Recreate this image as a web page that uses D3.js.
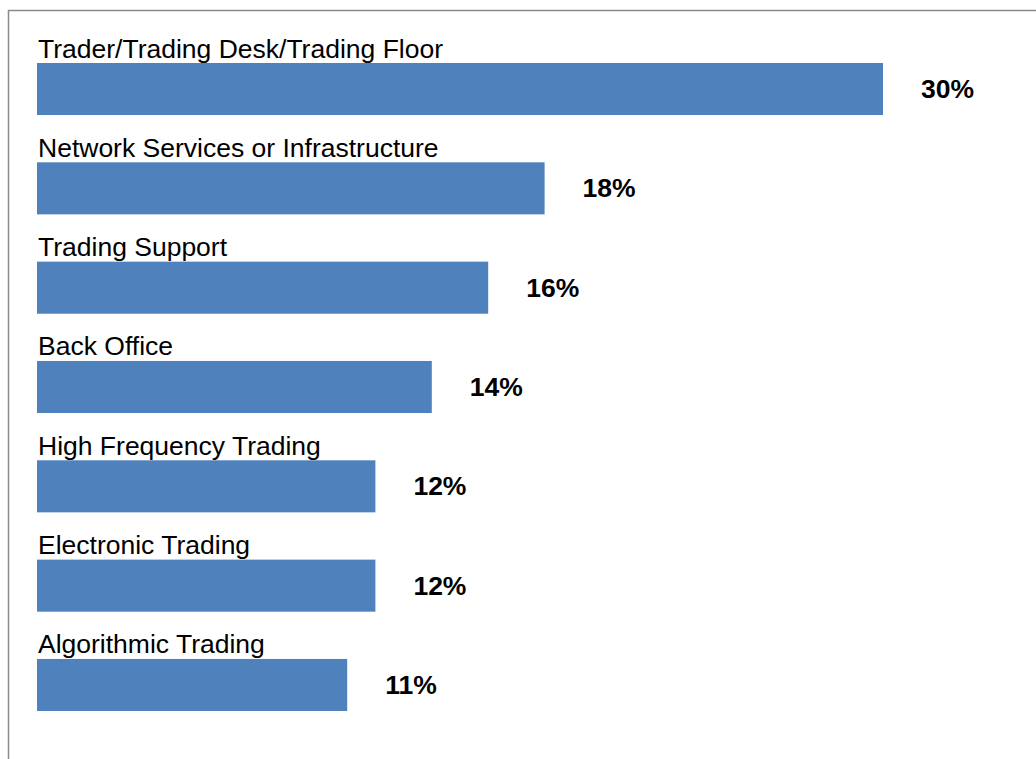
<!DOCTYPE html>
<html>
<head>
<meta charset="utf-8">
<script src="https://cdn.jsdelivr.net/npm/d3@7"></script>
<style>
  html, body { margin: 0; padding: 0; background: #ffffff; }
  svg { display: block; }
</style>
</head>
<body>
<script>
// Share of respondents by role
const categories = [
  "Trader/Trading Desk/Trading Floor",
  "Network Services or Infrastructure",
  "Trading Support",
  "Back Office",
  "High Frequency Trading",
  "Electronic Trading",
  "Algorithmic Trading"
];
const values = [30, 18, 16, 14, 12, 12, 11];
const valueLabels = ["30%", "18%", "16%", "14%", "12%", "12%", "11%"];

const width = 1036, height = 759;

const svg = d3.select("body").append("svg")
  .attr("width", width)
  .attr("height", height);

// frame around the chart area (extends past the window on the right and bottom)
svg.append("rect")
  .attr("x", 8.5).attr("y", 10.5)
  .attr("width", width + 20).attr("height", height + 20)
  .attr("fill", "none")
  .attr("stroke", "#8a8a8a")
  .attr("stroke-width", 1.5);

const x = d3.scaleLinear().domain([0, 30]).range([37, 883]);
const y = d3.scaleBand()
  .domain(categories)
  .range([63, 711])
  .paddingInner(0.476)
  .paddingOuter(0)
  .align(0);

const rows = svg.append("g").selectAll("g")
  .data(categories.map((c, i) => ({ c, v: values[i], label: valueLabels[i] })))
  .join("g");

rows.append("rect")
  .attr("x", x(0))
  .attr("y", d => y(d.c))
  .attr("width", d => x(d.v) - x(0))
  .attr("height", y.bandwidth())
  .attr("fill", "#4f81bd");

rows.append("text")
  .attr("x", x(0) + 1)
  .attr("y", d => y(d.c) - 5.5)
  .attr("font-family", "Liberation Sans, Arial, sans-serif")
  .attr("font-size", "26.5px")
  .attr("fill", "#000")
  .text(d => d.c);

rows.append("text")
  .attr("x", d => x(d.v) + 38)
  .attr("y", d => y(d.c) + y.bandwidth() / 2)
  .attr("dy", "0.34em")
  .attr("font-family", "Liberation Sans, Arial, sans-serif")
  .attr("font-size", "26.5px")
  .attr("font-weight", "bold")
  .attr("fill", "#000")
  .text(d => d.label);
</script>
</body>
</html>
